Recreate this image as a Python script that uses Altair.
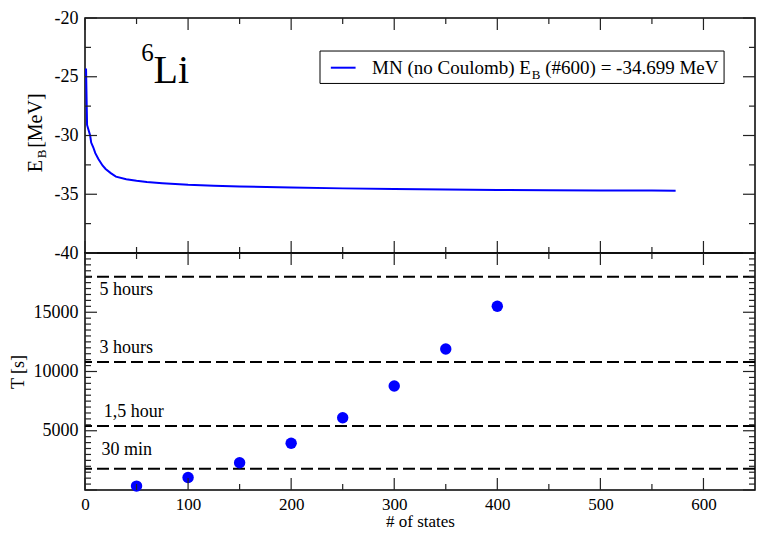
import altair as alt
import pandas as pd

# ---------------- data ----------------
# top panel: binding energy vs number of states
n_states = [1, 2, 3, 5, 6, 8, 10, 13, 17, 20, 25, 30, 40, 50, 60, 75, 100, 125,
            150, 200, 250, 300, 350, 400, 450, 500, 550, 573]
e_binding = [-24.3, -29.1, -29.4, -30.0, -30.6, -31.0, -31.5, -32.0, -32.55, -32.85,
             -33.2, -33.5, -33.72, -33.86, -33.96, -34.06, -34.2, -34.28, -34.34,
             -34.43, -34.5, -34.56, -34.6, -34.63, -34.66, -34.68, -34.69, -34.70]

# bottom panel: computing time vs number of states
t_states = [50, 100, 150, 200, 250, 300, 350, 400]
t_seconds = [330, 1050, 2300, 3950, 6100, 8780, 11900, 15500]

limit_seconds = [1800, 5400, 10800, 18000]
limit_labels = ["30 min", "1,5 hour", "3 hours", "5 hours"]

x_major = [0, 100, 200, 300, 400, 500, 600]
x_minor = [50, 150, 250, 350, 450, 550]
ytop_major = [-40, -35, -30, -25, -20]
ytop_minor = [-37.5, -32.5, -27.5, -22.5]
ybot_major = [0, 5000, 10000, 15000, 20000]
ybot_minor = [v for v in range(500, 20000, 500) if v % 5000 != 0]

# ---------------- style ----------------
W = 670
H_TOP = 235
H_BOT = 237
FONT = "Liberation Serif"
BLUE = "#0000ff"
LABEL_EXPR = "datum.value < 0 ? '-' + format(-datum.value, 'd') : format(datum.value, 'd')"

xs = alt.Scale(domain=[0, 650], nice=False, zero=False)
ys_top = alt.Scale(domain=[-40, -20], nice=False, zero=False)
ys_bot = alt.Scale(domain=[0, 20000], nice=False, zero=False)


def tick_layers(xmaj, xmin, ymaj, ymin, yscale, h):
    layers = []
    for vals, L in ((xmaj, 12), (xmin, 6)):
        d = pd.DataFrame({"x": vals})
        for a, b in ((h, h - L), (0, L)):
            layers.append(
                alt.Chart(d).mark_rule(color="#222", strokeWidth=1.2).encode(
                    x=alt.X("x:Q", scale=xs),
                    y=alt.value(a), y2=alt.value(b)))
    for vals, L in ((ymaj, 12), (ymin, 6)):
        d = pd.DataFrame({"y": vals})
        for a, b in ((0, L), (W, W - L)):
            layers.append(
                alt.Chart(d).mark_rule(color="#222", strokeWidth=1.2).encode(
                    y=alt.Y("y:Q", scale=yscale),
                    x=alt.value(a), x2=alt.value(b)))
    return layers


def text_at(text, x, y, yscale, size, angle=0, align="left", baseline="alphabetic"):
    d = pd.DataFrame({"x": [x], "y": [y], "t": [text]})
    return alt.Chart(d).mark_text(font=FONT, fontSize=size, color="black", angle=angle,
                                  align=align, baseline=baseline).encode(
        x=alt.X("x:Q", scale=xs),
        y=alt.Y("y:Q", scale=yscale),
        text="t:N")


# ---------------- top panel ----------------
line_df = pd.DataFrame({"x": n_states, "y": e_binding})
line = alt.Chart(line_df).mark_line(color=BLUE, strokeWidth=2).encode(
    x=alt.X("x:Q", scale=xs, axis=None),
    y=alt.Y("y:Q", scale=ys_top,
            axis=alt.Axis(values=ytop_major, title=None, labelOverlap=False,
                          labelExpr=LABEL_EXPR)))

legend_box = alt.Chart(pd.DataFrame({"x": [228], "x2": [620], "y": [-22.81], "y2": [-25.57]})).mark_rect(
    fill="white", stroke="black", strokeWidth=1).encode(
    x=alt.X("x:Q", scale=xs), x2="x2:Q",
    y=alt.Y("y:Q", scale=ys_top), y2="y2:Q")
legend_line = alt.Chart(pd.DataFrame({"x": [238.5], "x2": [262.5], "y": [-24.23]})).mark_rule(
    color=BLUE, strokeWidth=2).encode(
    x=alt.X("x:Q", scale=xs), x2="x2:Q",
    y=alt.Y("y:Q", scale=ys_top))

top_layers = [line, legend_box, legend_line,
              text_at("MN (no Coulomb) E", 278.5, -24.74, ys_top, 19),
              text_at("B", 433.5, -25.15, ys_top, 13),
              text_at("(#600) = -34.699 MeV", 446.5, -24.74, ys_top, 19),
              text_at("6", 54.5, -23.65, ys_top, 25),
              text_at("Li", 66.5, -25.57, ys_top, 40),
              text_at("E", -41.5, -33.12, ys_top, 20, angle=270),
              text_at("B", -37.4, -31.94, ys_top, 13, angle=270),
              text_at("[MeV]", -41.5, -31.05, ys_top, 20, angle=270)]
top_layers += tick_layers(x_major, x_minor, ytop_major, ytop_minor, ys_top, H_TOP)
top = alt.layer(*top_layers).properties(width=W, height=H_TOP)

# ---------------- bottom panel ----------------
lim_df = pd.DataFrame({"y": limit_seconds, "t": limit_labels})
limits = alt.Chart(lim_df).mark_rule(color="black", strokeWidth=2, strokeDash=[12, 5]).encode(
    y=alt.Y("y:Q", scale=ys_bot))

pts_df = pd.DataFrame({"x": t_states, "y": t_seconds})
points = alt.Chart(pts_df).mark_circle(size=130, color=BLUE, opacity=1).encode(
    x=alt.X("x:Q", scale=xs,
            axis=alt.Axis(values=x_major, title="# of states", labelFlush=False,
                          labelOverlap=False, titlePadding=1, format="d",
                          labelFontSize=17, titleFontSize=17, labelPadding=6)),
    y=alt.Y("y:Q", scale=ys_bot,
            axis=alt.Axis(values=[5000, 10000, 15000], title="T [s]", labelOverlap=False,
                          titlePadding=6, format="d")))

bot_layers = [limits,
              text_at("30 min", 16, 2979, ys_bot, 18),
              text_at("1,5 hour", 18.2, 6174, ys_bot, 18),
              text_at("3 hours", 14.1, 11598, ys_bot, 18),
              text_at("5 hours", 14.1, 16470, ys_bot, 18),
              points]
bot_layers += tick_layers(x_major, x_minor, ybot_major, ybot_minor, ys_bot, H_BOT)
bottom = alt.layer(*bot_layers).properties(width=W, height=H_BOT)

chart = alt.vconcat(top, bottom, spacing=0, bounds="flush").properties(
    padding={"left": 0, "top": 0, "right": 0, "bottom": 0}
).configure_view(stroke="black", strokeWidth=1.5).configure_axis(
    labelFont=FONT, labelFontSize=18, labelColor="black", ticks=False, domain=False,
    grid=False, labelPadding=7, titleFont=FONT, titleFontSize=18, titleFontWeight="normal",
    titleColor="black")

chart.save("out.html", embed_options={"renderer": "svg", "actions": False})
